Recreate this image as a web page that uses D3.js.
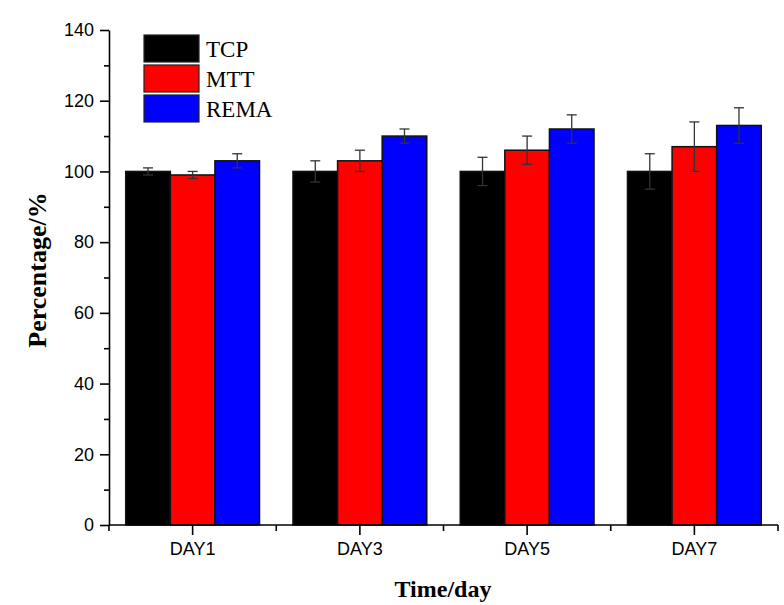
<!DOCTYPE html>
<html>
<head>
<meta charset="utf-8">
<script src="https://cdn.jsdelivr.net/npm/d3@7"></script>
<style>
  html, body { margin: 0; padding: 0; background: #fff; }
  svg { display: block; }
</style>
</head>
<body>
<svg id="chart" width="784" height="605"></svg>
<script>
// Cell viability per assay across culture days
const days = ["DAY1", "DAY3", "DAY5", "DAY7"];
const seriesNames = ["TCP", "MTT", "REMA"];
const seriesColors = ["#000000", "#ff0000", "#0000ff"];
const tcpValues = [100, 100, 100, 100];
const mttValues = [99, 103, 106, 107];
const remaValues = [103, 110, 112, 113];
const tcpErrors = [1, 3, 4, 5];
const mttErrors = [1, 3, 4, 7];
const remaErrors = [2, 2, 4, 5];
const yTicks = [0, 20, 40, 60, 80, 100, 120, 140];

const values = [tcpValues, mttValues, remaValues];
const errors = [tcpErrors, mttErrors, remaErrors];

const svg = d3.select("#chart");
const plotLeft = 109, plotRight = 778, plotTop = 30, plotBottom = 525;

const x = d3.scaleBand().domain(days).range([plotLeft, plotRight]).paddingInner(0.2).paddingOuter(0.1);
const xOuter = d3.scaleBand().domain(days).range([plotLeft, plotRight]).padding(0);
const xs = d3.scaleBand().domain(seriesNames).range([0, x.bandwidth()]);
const y = d3.scaleLinear().domain([0, 140]).range([plotBottom, plotTop]);

// Bars
const rows = [];
days.forEach((d, i) => seriesNames.forEach((s, j) => {
  rows.push({ day: d, series: s, color: seriesColors[j], v: values[j][i], e: errors[j][i] });
}));

const g = svg.append("g");
g.selectAll("rect.bar").data(rows).join("rect")
  .attr("class", "bar")
  .attr("x", r => x(r.day) + xs(r.series))
  .attr("y", r => y(r.v))
  .attr("width", xs.bandwidth())
  .attr("height", r => y(0) - y(r.v))
  .attr("fill", r => r.color)
  .attr("stroke", "#111")
  .attr("stroke-width", 1.5);

// Error bars
const eb = g.selectAll("g.err").data(rows).join("g").attr("class", "err")
  .attr("transform", r => `translate(${x(r.day) + xs(r.series) + xs.bandwidth() / 2},0)`);
eb.append("line")
  .attr("x1", 0).attr("x2", 0)
  .attr("y1", r => y(r.v - r.e)).attr("y2", r => y(r.v + r.e))
  .attr("stroke", "#333").attr("stroke-width", 1.3);
eb.selectAll("line.cap").data(r => [r.v - r.e, r.v + r.e]).join("line")
  .attr("class", "cap")
  .attr("x1", -5).attr("x2", 5)
  .attr("y1", v => y(v)).attr("y2", v => y(v))
  .attr("stroke", "#333").attr("stroke-width", 1.3);

// Y axis with minor ticks
const yAxis = svg.append("g").attr("transform", `translate(${plotLeft},0)`)
  .call(d3.axisLeft(y).tickValues(yTicks).tickSize(9).tickSizeOuter(0).tickPadding(6));
const yMinor = svg.append("g").attr("transform", `translate(${plotLeft},0)`)
  .call(d3.axisLeft(y).tickValues(d3.range(10, 140, 20)).tickSize(5).tickSizeOuter(0).tickFormat(""));
yMinor.select(".domain").remove();

// X axis: major ticks at day centres, minor ticks at band edges
const xAxis = svg.append("g").attr("transform", `translate(0,${plotBottom})`)
  .call(d3.axisBottom(x).tickSize(10).tickSizeOuter(0).tickPadding(7));
xAxis.select(".domain").attr("d", `M${plotLeft},0H${plotRight}`);
const edges = days.map(d => xOuter(d)).concat([plotRight]);
svg.append("g").attr("transform", `translate(0,${plotBottom})`)
  .selectAll("line").data(edges).join("line")
  .attr("x1", e => e).attr("x2", e => e).attr("y1", 0).attr("y2", 6)
  .attr("stroke", "#000").attr("stroke-width", 1.6);

[yAxis, yMinor, xAxis].forEach(a => {
  a.selectAll(".domain").attr("stroke", "#000").attr("stroke-width", 1.6);
  a.selectAll(".tick line").attr("stroke", "#000").attr("stroke-width", 1.6);
  a.selectAll(".tick text")
    .attr("fill", "#000")
    .style("font-family", "'Liberation Sans', Arial, sans-serif")
    .style("font-size", "18px");
});

// Axis titles
svg.append("text")
  .attr("x", 443).attr("y", 597)
  .attr("text-anchor", "middle")
  .style("font-family", "'Liberation Serif', 'Times New Roman', serif")
  .style("font-weight", "bold")
  .style("font-size", "24px")
  .text("Time/day");

svg.append("text")
  .attr("transform", "translate(46,270) rotate(-90)")
  .attr("text-anchor", "middle")
  .style("font-family", "'Liberation Serif', 'Times New Roman', serif")
  .style("font-weight", "bold")
  .style("font-size", "26px")
  .text("Percentage/%");

// Legend
const legend = svg.append("g").attr("transform", "translate(144,35)");
const li = legend.selectAll("g").data(seriesNames).join("g")
  .attr("transform", (d, i) => `translate(0,${i * 30})`);
li.append("rect")
  .attr("width", 55).attr("height", 27)
  .attr("fill", (d, i) => seriesColors[i])
  .attr("stroke", "#222").attr("stroke-width", 1.2);
li.append("text")
  .attr("x", 62).attr("y", 22)
  .style("font-family", "'Liberation Serif', 'Times New Roman', serif")
  .style("font-size", "23px")
  .attr("fill", "#000")
  .text(d => d);
</script>
</body>
</html>
